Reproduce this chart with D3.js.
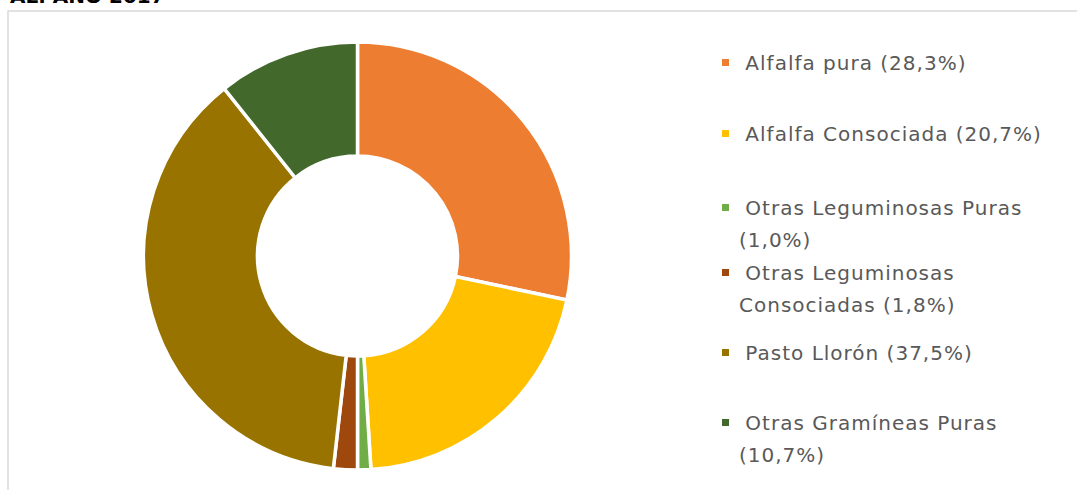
<!DOCTYPE html>
<html><head><meta charset="utf-8">
<script src="https://cdn.jsdelivr.net/npm/d3@7"></script>
<style>html,body{margin:0;padding:0;background:#fff;overflow:hidden}</style>
</head><body>
<svg id="c" width="1077" height="490"></svg>
<script>
const categories = ["Alfalfa pura", "Alfalfa Consociada", "Otras Leguminosas Puras", "Otras Leguminosas Consociadas", "Pasto Llorón", "Otras Gramíneas Puras"];
const values = [28.3, 20.7, 1.0, 1.8, 37.5, 10.7];
const colors = ["#ED7D31", "#FFC000", "#70AD47", "#9E480E", "#997300", "#43682B"];
const legendLines = [
  [" Alfalfa pura (28,3%)"],
  [" Alfalfa Consociada (20,7%)"],
  [" Otras Leguminosas Puras", "(1,0%)"],
  [" Otras Leguminosas", "Consociadas (1,8%)"],
  [" Pasto Llorón (37,5%)"],
  [" Otras Gramíneas Puras", "(10,7%)"]
];
const legendY = [63, 134, 208, 273, 353, 423];

const svg = d3.select("#c");
const font = "DejaVu Sans, sans-serif";

// title (cut off at top, as in the reference)
svg.append("text").attr("x", 10).attr("y", 3).attr("font-family", font)
  .attr("font-weight", "bold").attr("font-size", 20).attr("fill", "#000").text("AL. AÑO 2017");

// chart border
svg.append("rect").attr("x", 8).attr("y", 11).attr("width", 1080).attr("height", 490)
  .attr("fill", "none").attr("stroke", "#d9d9d9").attr("stroke-width", 1.5);

const cx = 357.5, cy = 256, R = 214, r = 100;
const pie = d3.pie().sort(null).value(d => d);
const arc = d3.arc().innerRadius(r).outerRadius(R);
const g = svg.append("g").attr("transform", `translate(${cx},${cy})`);
g.selectAll("path").data(pie(values)).enter().append("path")
  .attr("d", arc).attr("fill", (d, i) => colors[i])
  .attr("stroke", "#fff").attr("stroke-width", 3.5).attr("stroke-linejoin", "miter");

// legend
const lg = svg.append("g");
categories.forEach((c, i) => {
  lg.append("rect").attr("x", 722).attr("y", legendY[i] - 4).attr("width", 7).attr("height", 7).attr("fill", colors[i]);
  legendLines[i].forEach((t, j) => {
    lg.append("text").attr("x", j === 0 ? 738 : 739).attr("y", legendY[i] + j * 32)
      .attr("dy", "0.35em").attr("font-family", font).attr("font-size", 20)
      .attr("letter-spacing", 1)
      .attr("fill", "#595959").style("white-space", "pre").text(t);
  });
});
</script>
</body></html>
